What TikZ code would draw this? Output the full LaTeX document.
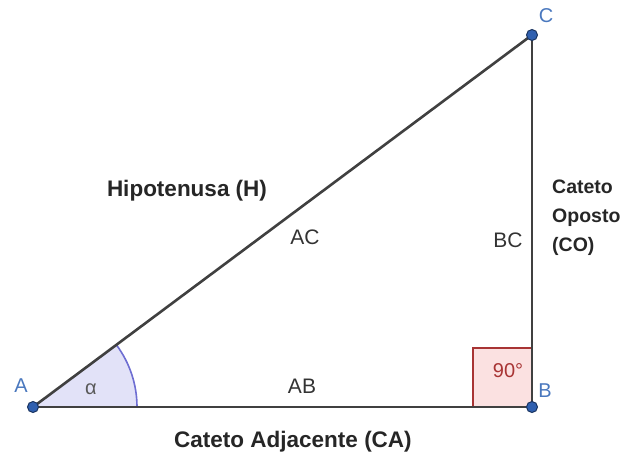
\documentclass[tikz,border=0pt]{standalone}
\usepackage{fontspec}
\setmainfont{Liberation Sans}
\usetikzlibrary{calc}
\definecolor{ptblue}{HTML}{2F5FAF}
\definecolor{lblblue}{HTML}{4A78BE}
\definecolor{sidegray}{HTML}{404040}
\definecolor{arcline}{HTML}{6E6ED2}
\definecolor{arcfill}{HTML}{E2E2F8}
\definecolor{sqline}{HTML}{A83434}
\definecolor{sqfill}{HTML}{FBE1E1}

\begin{document}
\begin{tikzpicture}[x=1pt,y=-1pt,
    side/.style={draw=sidegray,line width=2.6pt},
    ptlabel/.style={text=lblblue,font=\fontsize{20}{24}\selectfont,inner sep=0pt},
    seglabel/.style={text=black!80,font=\fontsize{21}{25}\selectfont,inner sep=0pt},
    namelabel/.style={text=black!85,font=\fontsize{22.5}{29}\selectfont\bfseries,inner sep=0pt}]
    \useasboundingbox (0,0) rectangle (632,456);
    \coordinate (A) at (33,407);
    \coordinate (B) at (532,407);
    \coordinate (C) at (532,35);
    % angle at A and right angle at B
    \fill[arcfill] (A) -- ++(104,0) arc [start angle=0, end angle=-36.7, radius=104] -- cycle;
    \draw[arcline,line width=1.6pt] ($(A)+(104,0)$) arc [start angle=0, end angle=-36.7, radius=104];
    \filldraw[fill=sqfill,draw=sqline,line width=1.8pt] (B) rectangle ++(-59,-59);
    % sides
    \draw[side] (A) -- (B);
    \draw[side] (B) -- (C);
    \draw[side] (A) -- (C);
    \foreach \p in {A,B,C}
      \filldraw[fill=ptblue,draw=ptblue!55!black,line width=1pt] (\p) circle (5.5pt);
    % labels
    \node[ptlabel] (lA) at (21,386) {A};
    \node[ptlabel] (lB) at (545,391) {B};
    \node[ptlabel] (lC) at (546,16) {C};
    \node[text=black!65,font=\fontsize{20}{24}\selectfont,inner sep=0pt] (alpha) at (91,389) {α};
    \node[text=sqline,font=\fontsize{20}{24}\selectfont,inner sep=0pt] (ang) at (508,371) {90°};
    \node[seglabel] (lAB) at (302,386) {AB};
    \node[seglabel] (lAC) at (305,237) {AC};
    \node[seglabel] (lBC) at (508,240) {BC};
    \node[namelabel] (hip) at (187,191) {Hipotenusa (H)};
    \node[namelabel,font=\fontsize{19.5}{29}\selectfont\bfseries,align=left,anchor=north west] (co) at (552,180) {Cateto\\Oposto\\(CO)};
    \node[namelabel] (ca) at (293,442) {Cateto Adjacente (CA)};
\end{tikzpicture}
\end{document}
